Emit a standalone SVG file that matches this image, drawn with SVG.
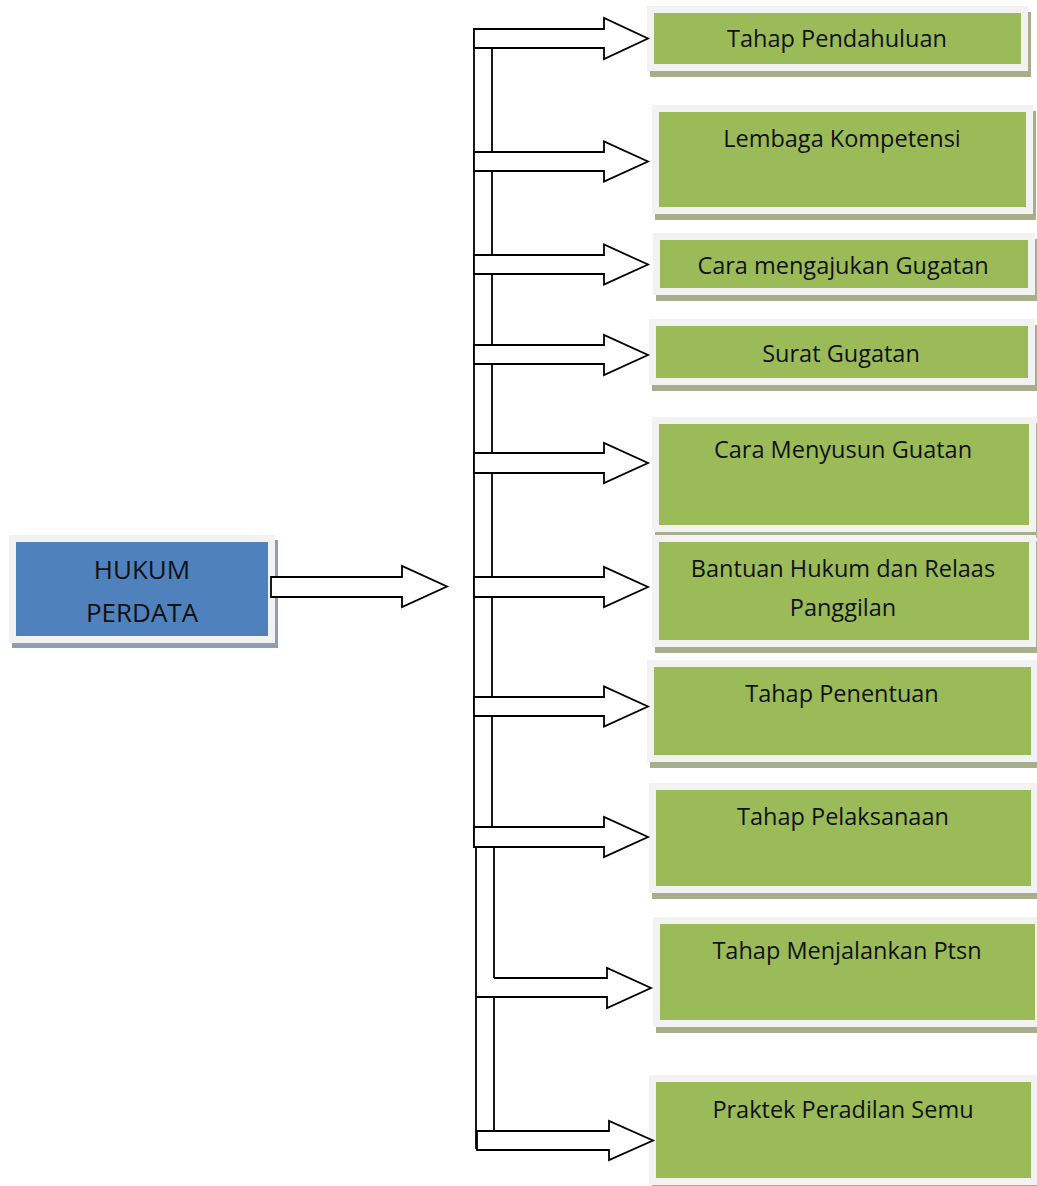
<svg xmlns="http://www.w3.org/2000/svg" width="1037" height="1186" viewBox="0 0 1037 1186">
<style>
.bg{fill:#ffffff}
.gshadow{fill:#a6ae8c}
.bshadow{fill:#8e9db5}
.gbox{fill:#9bbb59;stroke:#f2f2f2;stroke-width:7}
.bbox{fill:#4f81bd;stroke:#f2f2f2;stroke-width:7}
.t{font-family:"Open Sans","Liberation Sans",sans-serif;font-size:23.5px;fill:#111;text-anchor:middle}
.tb{font-family:"Open Sans","Liberation Sans",sans-serif;font-size:26px;fill:#111;text-anchor:middle}
.bar{fill:#ffffff;stroke:#000;stroke-width:1.8}
.arr{fill:#ffffff;stroke:#000;stroke-width:1.8;stroke-linejoin:miter}
.fillonly{fill:#ffffff;stroke:none}
.lineonly{fill:none;stroke:#000;stroke-width:1.8}
</style>
<rect class="bg" x="0" y="0" width="1037" height="1186"/>

<g id="node-hukum-perdata">
  <rect class="bshadow" x="12" y="540" width="266" height="108"/>
  <rect class="bbox" x="12.5" y="538.5" width="259" height="101"/>
  <text class="tb" x="142" y="579">HUKUM</text>
  <text class="tb" x="142" y="622">PERDATA</text>
</g>

<g id="node-tahap-pendahuluan">
  <rect class="gshadow" x="650" y="12" width="381" height="65"/>
  <rect class="gbox" x="650.5" y="9.5" width="374" height="58"/>
  <text class="t" x="837" y="47">Tahap Pendahuluan</text>
</g>

<g id="node-lembaga-kompetensi">
  <rect class="gshadow" x="655" y="111" width="381" height="109"/>
  <rect class="gbox" x="655.5" y="108.5" width="374" height="102"/>
  <text class="t" x="842" y="147">Lembaga Kompetensi</text>
</g>

<g id="node-cara-mengajukan-gugatan">
  <rect class="gshadow" x="656" y="239" width="382" height="62"/>
  <rect class="gbox" x="656.5" y="236.5" width="375" height="55"/>
  <text class="t" x="843" y="274">Cara mengajukan Gugatan</text>
</g>

<g id="node-surat-gugatan">
  <rect class="gshadow" x="652" y="325" width="386" height="66"/>
  <rect class="gbox" x="652.5" y="322.5" width="379" height="59"/>
  <text class="t" x="841" y="362">Surat Gugatan</text>
</g>

<g id="node-cara-menyusun-guatan">
  <rect class="gshadow" x="655" y="423" width="384" height="115"/>
  <rect class="gbox" x="655.5" y="420.5" width="377" height="108"/>
  <text class="t" x="843" y="458">Cara Menyusun Guatan</text>
</g>

<g id="node-bantuan-hukum">
  <rect class="gshadow" x="655" y="541" width="384" height="112"/>
  <rect class="gbox" x="655.5" y="538.5" width="377" height="105"/>
  <text class="t" x="843" y="577">Bantuan Hukum dan Relaas</text>
  <text class="t" x="843" y="616">Panggilan</text>
</g>

<g id="node-tahap-penentuan">
  <rect class="gshadow" x="650" y="666" width="391" height="102"/>
  <rect class="gbox" x="650.5" y="663.5" width="384" height="95"/>
  <text class="t" x="842" y="702">Tahap Penentuan</text>
</g>

<g id="node-tahap-pelaksanaan">
  <rect class="gshadow" x="652" y="789" width="389" height="110"/>
  <rect class="gbox" x="652.5" y="786.5" width="382" height="103"/>
  <text class="t" x="843" y="825">Tahap Pelaksanaan</text>
</g>

<g id="node-tahap-menjalankan-ptsn">
  <rect class="gshadow" x="656" y="923" width="392" height="110"/>
  <rect class="gbox" x="656.5" y="920.5" width="382" height="103"/>
  <text class="t" x="847" y="959">Tahap Menjalankan Ptsn</text>
</g>

<g id="node-praktek-peradilan-semu">
  <rect class="gshadow" x="652" y="1081" width="389" height="110"/>
  <rect class="gbox" x="652.5" y="1078.5" width="382" height="103"/>
  <text class="t" x="843" y="1118">Praktek Peradilan Semu</text>
</g>

<g id="connectors">
  <rect class="bar" x="474" y="29" width="18" height="818"/>
  <rect class="bar" x="476" y="846" width="18" height="302"/>
  <path class="arr" d="M474,29 H604 V18 L648,38.5 L604,59 V48 H474 Z"/>
  <path class="arr" d="M474,152 H604 V141.5 L648,161.5 L604,181.5 V171 H474 Z"/>
  <path class="arr" d="M474,255 H604 V244.5 L648,264.5 L604,284.5 V274 H474 Z"/>
  <path class="arr" d="M474,345 H604 V335 L648,355 L604,375 V364 H474 Z"/>
  <path class="arr" d="M474,453 H604 V443 L648,463 L604,483 V473 H474 Z"/>
  <path class="arr" d="M474,577 H604 V567 L648,587 L604,607 V597 H474 Z"/>
  <path class="arr" d="M474,697 H604 V686.5 L648,706.5 L604,726.5 V716 H474 Z"/>
  <path class="arr" d="M474,827 H604 V817 L648,837 L604,857 V847 H474 Z"/>
  <path class="fillonly" d="M477.2,978 H607 V968 L651,988 L607,1008 V997 H477.2 Z"/>
  <path class="lineonly" d="M494,978 H607 V968 L651,988 L607,1008 V997 H476"/>
  <path class="arr" d="M477,1131 H609 V1121 L653,1140.5 L609,1160 V1150 H477 Z"/>
  <path class="arr" d="M271,577 H402 V566 L447,586.5 L402,607 V597 H271 Z"/>
</g>
</svg>
